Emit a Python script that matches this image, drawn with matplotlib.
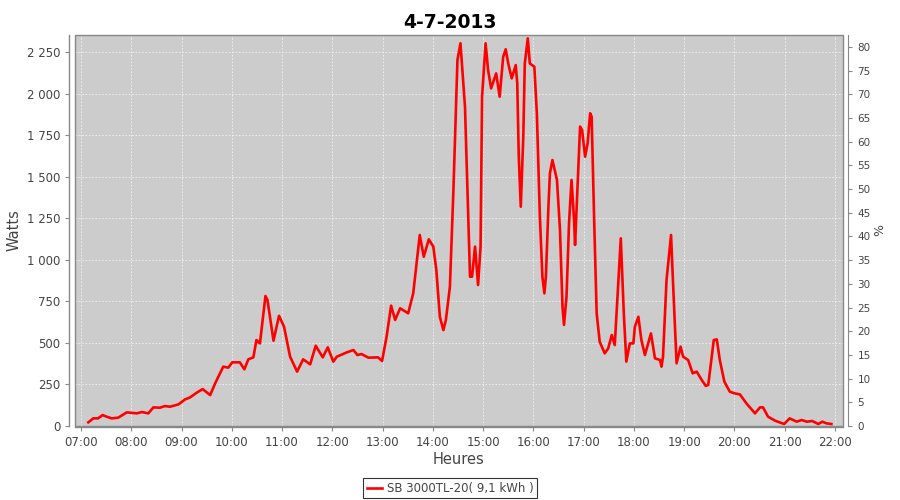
import numpy as np
import matplotlib.pyplot as plt
from matplotlib.ticker import FixedLocator, FuncFormatter
from matplotlib.patches import Rectangle

# heure decimale / puissance (W)
hours = [7.145, 7.245, 7.34, 7.43, 7.51, 7.61, 7.74, 7.91, 8.11, 8.21, 8.34, 8.44, 8.57, 8.67,
         8.77, 8.94, 9.07, 9.17, 9.30, 9.42, 9.57, 9.67, 9.83, 9.93, 10.01, 10.16, 10.25, 10.33,
         10.43, 10.49, 10.56, 10.67, 10.71, 10.83, 10.94, 11.04, 11.16, 11.30, 11.42, 11.56, 11.67,
         11.81, 11.91, 12.02, 12.09, 12.29, 12.42, 12.50, 12.58, 12.72, 12.91, 12.99, 13.08, 13.17,
         13.25, 13.35, 13.51, 13.61, 13.74, 13.82, 13.92, 14.01, 14.07, 14.14, 14.21, 14.26, 14.34,
         14.41, 14.49, 14.55, 14.64, 14.74, 14.78, 14.84, 14.90, 14.95, 14.98, 15.05, 15.10, 15.16,
         15.26, 15.33, 15.40, 15.45, 15.50, 15.57, 15.65, 15.68, 15.71, 15.75, 15.80, 15.83, 15.89,
         15.93, 16.02, 16.07, 16.13, 16.18, 16.22, 16.25, 16.30, 16.33, 16.38, 16.47, 16.53, 16.58,
         16.61, 16.66, 16.71, 16.76, 16.81, 16.83, 16.87, 16.93, 16.97, 17.03, 17.08, 17.13, 17.16,
         17.21, 17.26, 17.32, 17.42, 17.49, 17.56, 17.62, 17.74, 17.80, 17.85, 17.92, 17.99, 18.02,
         18.09, 18.15, 18.22, 18.34, 18.42, 18.52, 18.55, 18.58, 18.65, 18.74, 18.78, 18.85, 18.93,
         18.98, 19.08, 19.17, 19.25, 19.35, 19.43, 19.48, 19.55, 19.59, 19.65, 19.71, 19.80, 19.91,
         20.01, 20.11, 20.24, 20.41, 20.51, 20.57, 20.67, 20.81, 20.99, 21.10, 21.24, 21.34, 21.44,
         21.55, 21.67, 21.75, 21.83, 21.93]
watts = [22, 46, 46, 66, 56, 46, 50, 82, 76, 84, 76, 112, 110, 120,
         116, 130, 160, 172, 200, 222, 186, 257, 357, 351, 383, 383, 341, 401,
         413, 517, 497, 782, 758, 513, 663, 597, 417, 327, 401, 371, 483,
         413, 473, 387, 417, 443, 457, 427, 433, 411, 413, 391, 537, 724,
         638, 708, 678, 798, 1149, 1018, 1123, 1079, 938, 657, 577, 638, 838,
         1420, 2202, 2302, 1921, 898, 898, 1079, 848, 1079, 1981, 2302, 2141, 2031,
         2121, 1981, 2221, 2266, 2181, 2091, 2171, 2061, 1620, 1319, 1740, 2181, 2332,
         2181, 2161, 1881, 1259, 898, 798, 898, 1319, 1520, 1600, 1480, 1179, 718,
         608, 778, 1219, 1480, 1239, 1089, 1379, 1801, 1780, 1620, 1700, 1881, 1861,
         1239, 678, 507, 437, 467, 547, 487, 1129, 678, 387, 497, 497, 597,
         657, 517, 427, 557, 407, 397, 357, 417, 878, 1149, 858, 377, 477,
         417, 397, 317, 327, 277, 241, 247, 417, 517, 521, 397, 267, 206,
         196, 190, 136, 76, 112, 112, 56, 32, 12, 46, 26, 36, 26,
         30, 12, 26, 16, 12]

hour_ticks = list(range(7, 23))
watt_ticks = list(range(0, 2251, 250))
pct_ticks = list(range(0, 81, 5))

title = "4-7-2013"
series_label = "SB 3000TL-20( 9,1 kWh )"

TXT = "#444444"
AX = "#888888"

fig = plt.figure(figsize=(9, 5), dpi=100)
ax = fig.add_axes([0.0833, 0.148, 0.8533, 0.782])
ax.set_facecolor("#cccccc")

line, = ax.plot(hours, watts, color="#ff0000", linewidth=1.9, solid_joinstyle="round",
                label=series_label)

ax.set_xlim(6.88, 22.16)
ax.set_ylim(0, 2352)

ax.xaxis.set_major_locator(FixedLocator(hour_ticks))
ax.xaxis.set_major_formatter(FuncFormatter(lambda v, p: f"{int(round(v)):02d}:00"))
ax.yaxis.set_major_locator(FixedLocator(watt_ticks))
ax.yaxis.set_major_formatter(FuncFormatter(
    lambda v, p: f"{int(v):,}".replace(",", " ")))

ax.grid(True, color="#f2f2f2", linestyle=(0, (2, 2)), linewidth=0.6)
ax.set_axisbelow(True)

for s in ["top", "right"]:
    ax.spines[s].set_visible(False)
ax.spines["left"].set_position(("outward", 4))
ax.spines["bottom"].set_position(("outward", 1))
for s in ["left", "bottom"]:
    ax.spines[s].set_color(AX)
    ax.spines[s].set_linewidth(1.0)
ax.add_patch(Rectangle((0, 0), 1, 1, transform=ax.transAxes, fill=False,
                       edgecolor=AX, linewidth=1.0, clip_on=False, zorder=5))

ax.tick_params(axis="both", colors=AX, labelcolor=TXT, labelsize=8.5, length=3, width=0.8)
ax.set_xlabel("Heures", fontsize=10.5, color=TXT, labelpad=2)
ax.set_ylabel("Watts", fontsize=10.5, color=TXT, labelpad=4)

ax2 = ax.twinx()
ax2.set_ylim(0, 82.5)
ax2.yaxis.set_major_locator(FixedLocator(pct_ticks))
for s in ["top", "left", "bottom"]:
    ax2.spines[s].set_visible(False)
ax2.spines["right"].set_position(("outward", 4))
ax2.spines["right"].set_color(AX)
ax2.tick_params(axis="y", colors=AX, labelcolor=TXT, labelsize=7.5, length=3, width=0.8)
ax2.set_ylabel("%", fontsize=9, color=TXT, labelpad=2)

fig.suptitle(title, fontsize=13.5, fontweight="bold", y=0.975, x=0.5)

leg = fig.legend(handles=[line], loc="lower center", bbox_to_anchor=(0.5, -0.004),
                 frameon=True, fancybox=False, fontsize=8.5, handlelength=1.3,
                 handletextpad=0.4, borderpad=0.3, borderaxespad=0.3)
leg.get_frame().set_edgecolor("black")
leg.get_frame().set_linewidth(0.8)
for t in leg.get_texts():
    t.set_color(TXT)

fig.savefig("out.png", dpi=100)
